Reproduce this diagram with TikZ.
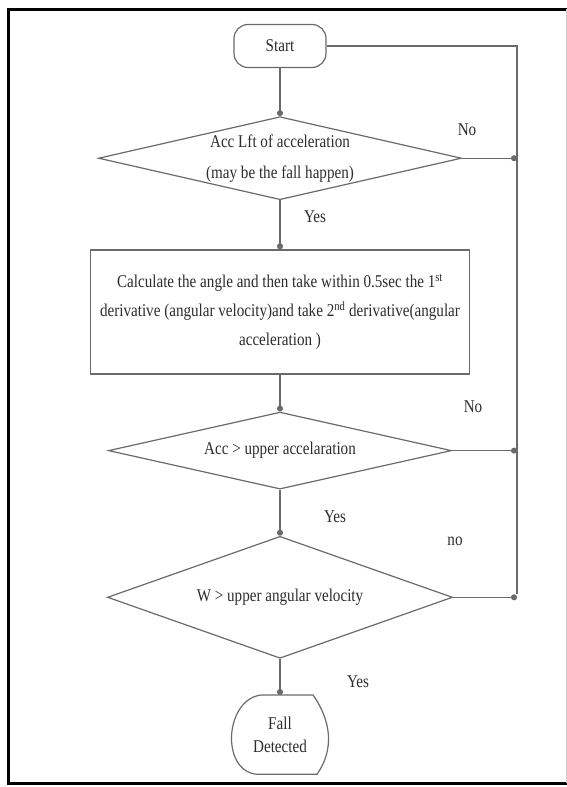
\documentclass[tikz,border=0pt]{standalone}
\usepackage{fontspec}
\setmainfont{Liberation Serif}[FakeStretch=0.84]
\usepackage{xcolor}
\usepackage{tikz}
\usetikzlibrary{arrows.meta,positioning,shapes.geometric,calc}

\definecolor{linegray}{HTML}{6A6A6A}
\definecolor{textgray}{HTML}{2C2C2C}

\begin{document}
\begin{tikzpicture}[
    x=1pt, y=-1pt,
    node distance=40pt,
    every node/.style={text=textgray, font=\fontsize{18}{22}\selectfont},
    term/.style={draw=linegray, line width=1.2pt, rounded corners=14pt, minimum width=92pt, minimum height=43pt, inner sep=0pt},
    decision/.style={draw=linegray, line width=1.2pt, diamond, inner sep=0pt, align=center},
    procbox/.style={draw=linegray, line width=1.2pt, minimum width=379pt, minimum height=124pt, inner sep=0pt, align=center},
    lbl/.style={inner sep=0pt},
    line/.style={draw=linegray, line width=1.2pt},
    arr/.style={line, -{Circle[length=6pt]}},
    frame/.style={line width=3pt, black}
]
\useasboundingbox (0,0) rectangle (567,787);

% outer frame
\draw[frame] (567,9) -- (8,9) -- (8,783) -- (567,783);
\draw[gray!40, line width=0.8pt] (566,9) -- (566,783);

\node[term] (start) at (280,46) {Start};
\node[decision, below=48pt of start, minimum width=363pt, minimum height=83pt, aspect=4.37,
      font=\fontsize{18}{31}\selectfont] (lft)
    {Acc Lft of acceleration\\(may be the fall happen)};
\node[procbox, below=49pt of lft, font=\fontsize{18}{29}\selectfont] (calcang)
    {Calculate the angle and then take within 0.5sec the 1\textsuperscript{st}\\
     derivative (angular velocity)and take 2\textsuperscript{nd} derivative(angular\\
     acceleration )};
\node[decision, below=37pt of calcang, minimum width=343pt, minimum height=77pt, aspect=4.45] (accup)
    {Acc > upper accelaration};
\node[decision, below=46pt of accup, minimum width=345pt, minimum height=122pt, aspect=2.83] (angvel)
    {W > upper angular velocity};
\node[below=36pt of angvel, minimum width=95pt, minimum height=79pt, inner sep=0pt, align=center,
      font=\fontsize{18}{23}\selectfont] (fall) {Fall\\Detected};
\draw[line]
    ($(fall.north)+(-18,0)$) -- ($(fall.north)+(33,0)$)
    to[out=-55, in=55] ($(fall.south)+(37,0)$)
    -- ($(fall.south)+(-23,0)$)
    to[out=175, in=-175, looseness=1.2] ($(fall.north)+(-18,0)$);

% yes / no labels
\node[lbl] (no1) at (467,130) {No};
\node[lbl] (yes1) at (315,217) {Yes};
\node[lbl] (no2) at (473,407) {No};
\node[lbl] (yes2) at (335,517) {Yes};
\node[lbl] (no3) at (455,541) {no};
\node[lbl] (yes3) at (358,682) {Yes};

% return line on the right
\coordinate (rtop) at (517,46);
\coordinate (rbot) at (517,594);

\draw[arr] (start) -- (lft);
\draw[arr] (lft) -- (calcang);
\draw[arr] (calcang) -- (accup);
\draw[arr] (accup) -- (angvel);
\draw[arr] (angvel) -- (fall);

\draw[line] (start) -- (rtop) -- (rbot);
\draw[arr] (lft.east) -- (lft.east -| rtop);
\draw[arr] (accup.east) -- (accup.east -| rtop);
\draw[arr] (angvel.east) -- (angvel.east -| rbot);
\end{tikzpicture}
\end{document}
